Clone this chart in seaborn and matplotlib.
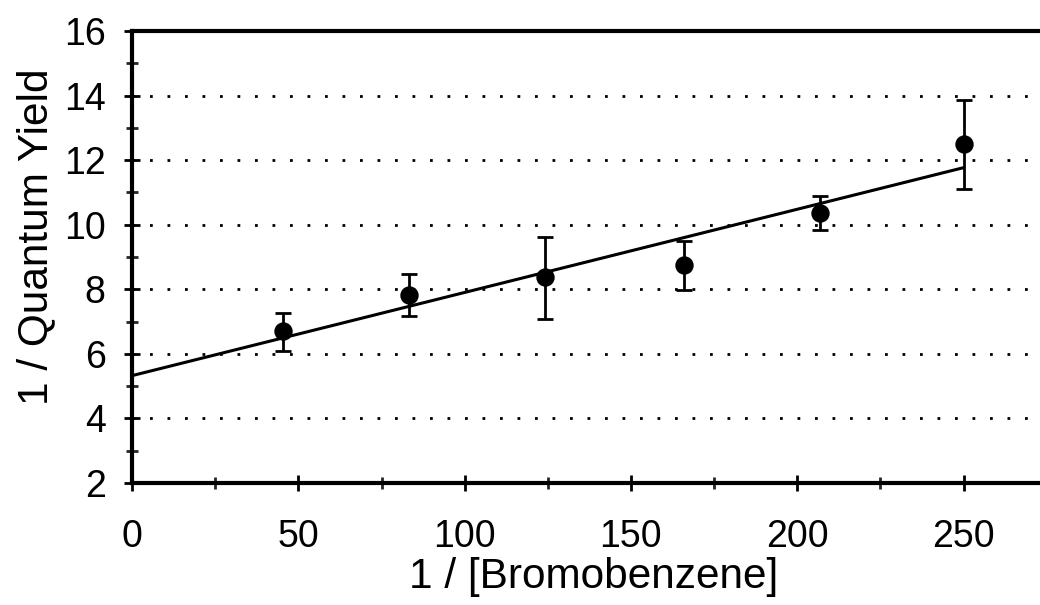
import numpy as np
import pandas as pd
import matplotlib
matplotlib.use("Agg")
import matplotlib.pyplot as plt
import seaborn as sns
from matplotlib.ticker import MultipleLocator

# Data
inv_bromobenzene = [45.3, 83.2, 124.2, 166.0, 206.9, 250.1]
inv_quantum_yield = [6.71, 7.82, 8.37, 8.75, 10.37, 12.49]
err_upper = [7.27, 8.46, 9.62, 9.50, 10.89, 13.86]
err_lower = [6.10, 7.17, 7.08, 7.97, 9.85, 11.12]
x_ticks = [0, 50, 100, 150, 200, 250]
y_ticks = [2, 4, 6, 8, 10, 12, 14, 16]

sns.set_theme(style="ticks")
plt.rcParams['font.family'] = ['Liberation Sans', 'DejaVu Sans']

df = pd.DataFrame({"x": inv_bromobenzene, "y": inv_quantum_yield})

fig = plt.figure(figsize=(10.4, 6.05), dpi=100)
ax = fig.add_axes([0.127, 0.2017, 0.873, 0.7471])

# Dotted horizontal gridlines (interior only)
for yv in y_ticks[1:-1]:
    ax.axhline(yv, color="black", lw=2.0, ls=(0, (1, 5.3)), zorder=1)

# Least-squares fit line, from x = 0 to the last point
slope, intercept = np.polyfit(df["x"], df["y"], 1)
fit_x = np.array([0.0, max(inv_bromobenzene)])
fit_df = pd.DataFrame({"x": fit_x, "y": intercept + slope * fit_x})
sns.lineplot(data=fit_df, x="x", y="y", ax=ax, color="black", lw=2.2, zorder=3)

# Error bars
yerr = np.array([np.array(inv_quantum_yield) - np.array(err_lower),
                 np.array(err_upper) - np.array(inv_quantum_yield)])
ax.errorbar(inv_bromobenzene, inv_quantum_yield, yerr=yerr, fmt="none",
            ecolor="black", elinewidth=2.0, capsize=6, capthick=2.0, zorder=4)

# Points
sns.scatterplot(data=df, x="x", y="y", ax=ax, color="black", s=150,
                marker="o", edgecolor="black", zorder=5)

ax.set_xlim(0, 273)
ax.set_ylim(2, 16)
ax.set_xticks(x_ticks)
ax.set_yticks(y_ticks)
ax.xaxis.set_minor_locator(MultipleLocator(25))
ax.yaxis.set_minor_locator(MultipleLocator(1))
ax.tick_params(axis="both", which="major", direction="inout", length=12,
               width=2, labelsize=27, colors="black")
ax.tick_params(axis="both", which="minor", direction="inout", length=8,
               width=2)
ax.tick_params(axis="x", which="major", pad=20)
ax.tick_params(axis="y", which="major", pad=13)

for side in ["left", "bottom", "top"]:
    ax.spines[side].set_linewidth(3)
    ax.spines[side].set_color("black")
ax.spines["right"].set_visible(False)

ax.set_xlabel("1 / [Bromobenzene]", fontsize=30.5, color="black")
ax.set_ylabel("1 / Quantum Yield", fontsize=30.5, color="black")
ax.xaxis.set_label_coords(0.508, -0.164)
ax.yaxis.set_label_coords(-0.084, 0.544)

fig.savefig("out.png", dpi=100, facecolor="white")
